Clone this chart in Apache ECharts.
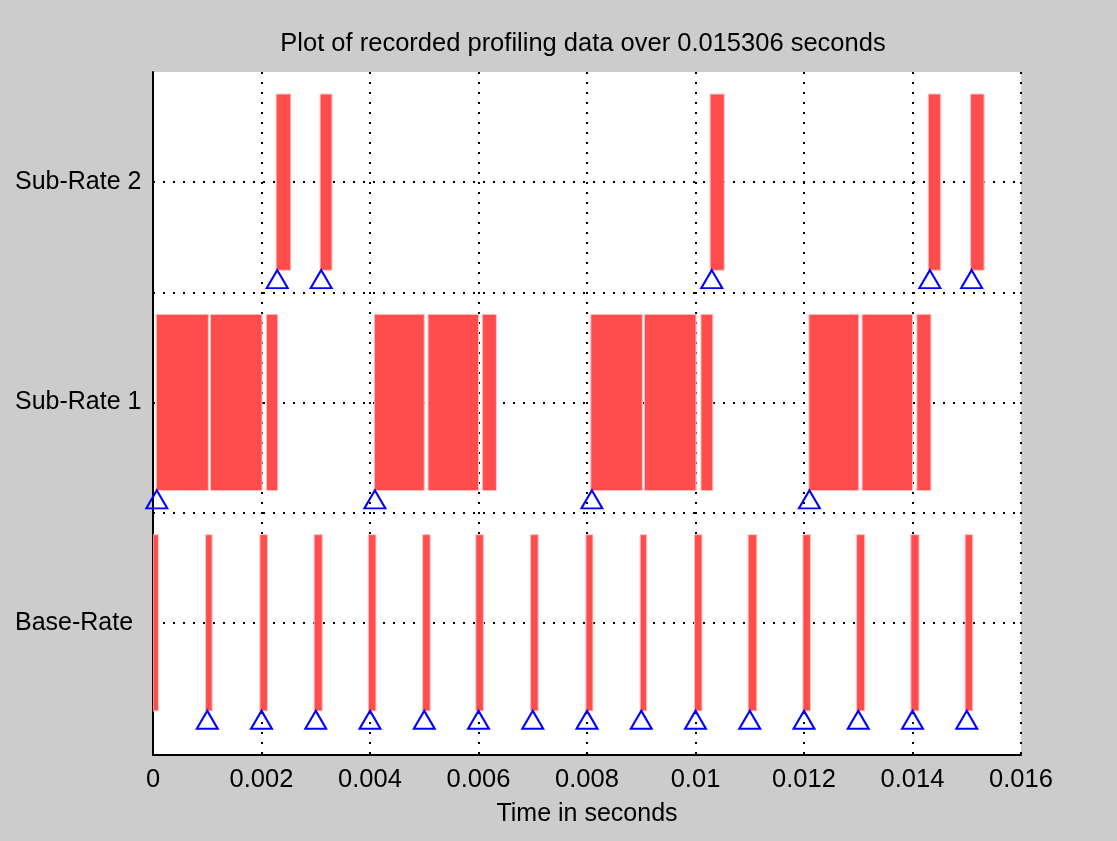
<!DOCTYPE html>
<html>
<head>
<meta charset="utf-8">
<script src="https://cdn.jsdelivr.net/npm/echarts@6/dist/echarts.min.js"></script>
<style>
html,body{margin:0;padding:0;background:#cccccc;}
#chart{width:1117px;height:841px;}
</style>
</head>
<body>
<div id="chart"></div>
<script>
// ---- data ----
var titleText = 'Plot of recorded profiling data over 0.015306 seconds';
var xAxisName = 'Time in seconds';
var rowNames = ['Base-Rate', 'Sub-Rate 1', 'Sub-Rate 2'];
var rowValues = [1, 2, 3];
var gridRowValues = [1, 1.5, 2, 2.5, 3];

// Base-Rate task executions (start / end, seconds)
var baseStart = [0, 0.00097, 0.00197, 0.00297, 0.00397, 0.00497, 0.00595, 0.00696, 0.00798, 0.00898, 0.00998, 0.01097, 0.01198, 0.01297, 0.01397, 0.01497];
var baseEnd   = [0.0001, 0.00109, 0.00211, 0.00312, 0.00411, 0.00511, 0.00609, 0.0071, 0.00811, 0.0091, 0.01012, 0.01113, 0.01212, 0.01312, 0.01412, 0.01511];
var baseTrig  = [0.001, 0.002, 0.003, 0.004, 0.005, 0.006, 0.007, 0.008, 0.009, 0.010, 0.011, 0.012, 0.013, 0.014, 0.015];

// Sub-Rate 1 task executions
var sub1Start = [0.00006, 0.00106, 0.00209, 0.00408, 0.00507, 0.00607, 0.00807, 0.00906, 0.0101, 0.01209, 0.01307, 0.01408];
var sub1End   = [0.00102, 0.00201, 0.0023, 0.005, 0.006, 0.00633, 0.00902, 0.01001, 0.01032, 0.01301, 0.014, 0.01434];
var sub1Trig  = [0.00007, 0.00409, 0.00809, 0.0121];

// Sub-Rate 2 task executions
var sub2Start = [0.00227, 0.00308, 0.01027, 0.01429, 0.01507];
var sub2End   = [0.00254, 0.0033, 0.01053, 0.01452, 0.01532];
var sub2Trig  = [0.00229, 0.0031, 0.0103, 0.01432, 0.01509];

// ---- build options ----
var halfHeight = 0.4;      // half height of execution bars (row units)
var trigOffset = 0.44;     // triangle marker below row centre

var segs = [];
function addSegs(starts, ends, row) {
  for (var i = 0; i < starts.length; i++) segs.push([starts[i], ends[i], row]);
}
addSegs(baseStart, baseEnd, rowValues[0]);
addSegs(sub1Start, sub1End, rowValues[1]);
addSegs(sub2Start, sub2End, rowValues[2]);

var trigs = [];
function addTrigs(ts, row) {
  for (var i = 0; i < ts.length; i++) trigs.push([ts[i], row - trigOffset]);
}
addTrigs(baseTrig, rowValues[0]);
addTrigs(sub1Trig, rowValues[1]);
addTrigs(sub2Trig, rowValues[2]);

var dotStyle = { color: '#000', width: 2, type: [2, 8] };
var font = 'Liberation Sans, Arial, sans-serif';

var chart = echarts.init(document.getElementById('chart'), null, { renderer: 'canvas' });
chart.setOption({
  backgroundColor: '#cccccc',
  animation: false,
  title: {
    text: titleText,
    left: 583, top: 31, padding: 0, textAlign: 'center',
    textStyle: { fontFamily: font, fontSize: 25.5, fontWeight: 'normal', color: '#000' }
  },
  grid: {
    left: 153, right: 96, top: 72, bottom: 86,
    show: true, backgroundColor: '#ffffff', borderWidth: 0
  },
  xAxis: {
    type: 'value', min: 0, max: 0.016, interval: 0.002,
    name: xAxisName, nameLocation: 'middle', nameGap: 47,
    nameTextStyle: { fontFamily: font, fontSize: 25, color: '#000' },
    axisLine: { show: true, onZero: false, lineStyle: { color: '#000', width: 2 } },
    axisTick: { show: false },
    axisLabel: { margin: 12, fontFamily: font, fontSize: 25.5, color: '#000',
      formatter: function (v) { return String(+v.toFixed(6)); } },
    splitLine: { show: true, lineStyle: dotStyle }
  },
  yAxis: {
    type: 'value', min: 0.4, max: 3.5, interval: 0.1,
    axisLine: { show: true, onZero: false, lineStyle: { color: '#000', width: 2 } },
    axisTick: { show: false },
    splitLine: { show: false },
    axisLabel: {
      margin: 138, align: 'left', verticalAlign: 'middle', fontFamily: font, fontSize: 25, color: '#000',
      padding: [4, 0, 0, 0],
      formatter: function (v) {
        for (var i = 0; i < rowValues.length; i++) {
          if (Math.abs(v - rowValues[i]) < 1e-6) return rowNames[i];
        }
        return '';
      }
    }
  },
  series: [
    {
      type: 'custom',
      z: 2,
      clip: true,
      data: segs,
      renderItem: function (params, api) {
        var p0 = api.coord([api.value(0), api.value(2) + halfHeight]);
        var p1 = api.coord([api.value(1), api.value(2) - halfHeight]);
        return {
          type: 'rect',
          shape: { x: p0[0], y: p0[1], width: p1[0] - p0[0], height: p1[1] - p0[1] },
          style: { fill: '#ff4d4d', stroke: '#ffc4c4', lineWidth: 1 }
        };
      }
    },
    {
      type: 'scatter',
      z: 3,
      symbol: 'triangle',
      symbolSize: [21, 18],
      data: trigs,
      itemStyle: { color: 'rgba(0,0,0,0)', borderColor: '#0000ff', borderWidth: 2, opacity: 1 },
      markLine: {
        z: 1,
        silent: true,
        symbol: 'none',
        label: { show: false },
        lineStyle: dotStyle,
        data: gridRowValues.map(function (v) { return { yAxis: v }; })
      }
    }
  ]
});
</script>
</body>
</html>
